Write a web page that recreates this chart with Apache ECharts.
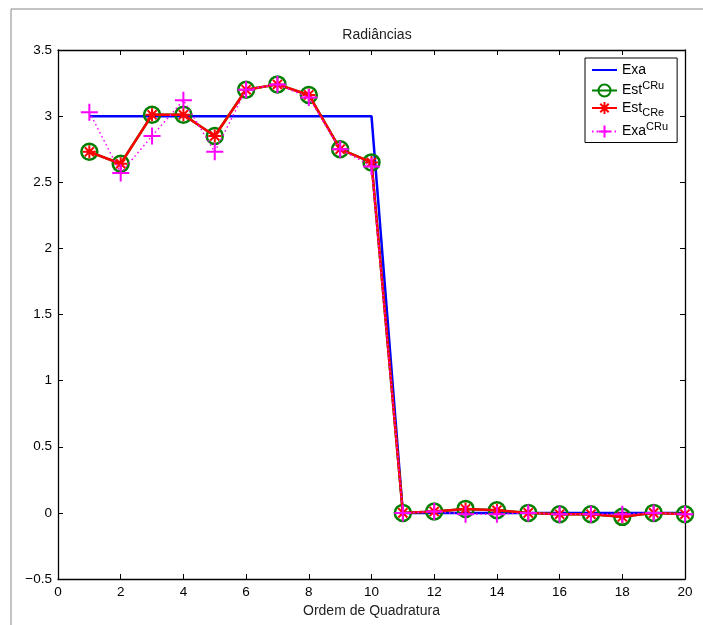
<!DOCTYPE html>
<html>
<head>
<meta charset="utf-8">
<script src="https://cdn.jsdelivr.net/npm/echarts@6/dist/echarts.min.js"></script>
<style>html,body{margin:0;padding:0;background:#fff}#c{width:703px;height:625px}</style>
</head>
<body>
<div id="c"></div>
<script>
const xValues = [1,2,3,4,5,6,7,8,9,10,11,12,13,14,15,16,17,18,19,20];
const exa = [3,3,3,3,3,3,3,3,3,3,0,0,0,0,0,0,0,0,0,0];
const estCRu = [2.73,2.64,3.01,3.01,2.85,3.20,3.24,3.16,2.75,2.65,0,0.01,0.03,0.02,0,-0.01,-0.01,-0.03,0,-0.01];
const estCRe = [2.73,2.64,3.01,3.01,2.85,3.20,3.24,3.16,2.75,2.65,0,0.01,0.03,0.02,0,-0.01,-0.01,-0.03,0,-0.01];
const exaCRu = [3.03,2.57,2.85,3.12,2.73,3.20,3.24,3.14,2.75,2.62,0,0.01,-0.01,-0.01,0,-0.01,-0.01,-0.01,0,-0.01];
const seriesNames = ['Exa','EstCRu','EstCRe','ExaCRu'];
const xTicks = [0,2,4,6,8,10,12,14,16,18,20];
const yTicks = [-0.5,0,0.5,1,1.5,2,2.5,3,3.5];

const pair = a => xValues.map((x,i)=>[x,a[i]]);
const FONT = '"Liberation Sans", Arial, Helvetica, sans-serif';
const plusPath = 'path://M0,5 L10,5 M5,0 L5,10';
const starPath = 'path://M0,5 L10,5 M5,0 L5,10 M1.5,1.5 L8.5,8.5 M1.5,8.5 L8.5,1.5';
const nonePath = 'path://M0,0 L10,10';

const chart = echarts.init(document.getElementById('c'), null, {renderer:'canvas'});
const axisCommon = {
  axisLine:{show:true,onZero:false,lineStyle:{color:'#000',width:1.3}},
  axisTick:{show:true,inside:true,length:5,lineStyle:{color:'#000',width:1}},
  splitLine:{show:false}
};
chart.setOption({
  animation:false,
  backgroundColor:'#fff',
  textStyle:{fontFamily:FONT},
  title:{text:'Radiâncias',left:372,top:23,textAlign:'center',
    textStyle:{fontFamily:FONT,fontSize:14,fontWeight:'normal',color:'#222'}},
  grid:{left:58,top:50,right:18,bottom:46,containLabel:false},
  legend:{
    data:seriesNames, orient:'vertical', left:585, top:58,
    padding:[5,9,4,6], itemGap:3.5, itemWidth:25, itemHeight:15,
    borderColor:'#000', borderWidth:1, backgroundColor:'#fff',
    textStyle:{fontFamily:FONT,fontSize:14,color:'#000',
      rich:{
        b:{fontSize:14,fontFamily:FONT,lineHeight:20,verticalAlign:'middle',color:'#000'},
        sup:{fontSize:11,fontFamily:FONT,lineHeight:10,verticalAlign:'top',color:'#000'},
        sub:{fontSize:11,fontFamily:FONT,lineHeight:10,verticalAlign:'bottom',color:'#000'}
      }},
    formatter:function(n){
      if(n==='Exa') return '{b|Exa}';
      if(n==='EstCRu') return '{b|Est}{sup|CRu}';
      if(n==='EstCRe') return '{b|Est}{sub|CRe}';
      return '{b|Exa}{sup|CRu}';
    }
  },
  xAxis:[
    Object.assign({type:'value',min:0,max:20,interval:2,position:'bottom',
      name:'Ordem de Quadratura',nameLocation:'middle',nameGap:22,
      nameTextStyle:{fontFamily:FONT,fontSize:14,color:'#222'},
      axisLabel:{fontFamily:FONT,fontSize:13.5,color:'#000',margin:6}},axisCommon),
    Object.assign({type:'value',min:0,max:20,interval:2,position:'top',
      axisLabel:{show:false}},axisCommon)
  ],
  yAxis:[
    Object.assign({type:'value',min:-0.5,max:3.5,interval:0.5,position:'left',
      axisLabel:{fontFamily:FONT,fontSize:13.5,color:'#000',margin:6,
        formatter:v=>String(v).replace('-','\u2212')}},axisCommon),
    Object.assign({type:'value',min:-0.5,max:3.5,interval:0.5,position:'right',
      axisLabel:{show:false}},axisCommon)
  ],
  graphic:[{type:'polyline',shape:{points:[[11,625],[11,9],[703,9]]},
    style:{stroke:'#888',lineWidth:1,fill:null},silent:true}],
  series:[
    {name:'Exa',type:'line',data:pair(exa),showSymbol:false,symbol:nonePath,symbolSize:10,
      lineStyle:{color:'#0000ff',width:2.5},
      itemStyle:{color:'#0000ff',borderColor:'#0000ff',borderWidth:0},z:2},
    {name:'EstCRu',type:'line',data:pair(estCRu),symbol:'circle',symbolSize:16,
      lineStyle:{color:'#008000',width:2.5},
      itemStyle:{color:'rgba(255,255,255,0)',borderColor:'#008000',borderWidth:2.5},z:3},
    {name:'EstCRe',type:'line',data:pair(estCRe),symbol:starPath,symbolSize:13,
      lineStyle:{color:'#ff0000',width:2.5},
      itemStyle:{color:'#ff0000',borderColor:'#ff0000',borderWidth:2},z:4},
    {name:'ExaCRu',type:'line',data:pair(exaCRu),symbol:plusPath,symbolSize:17,
      lineStyle:{color:'#ff00ff',width:1.5,type:[1.5,3]},
      itemStyle:{color:'#ff00ff',borderColor:'#ff00ff',borderWidth:2},z:5}
  ]
});
</script>
</body>
</html>
